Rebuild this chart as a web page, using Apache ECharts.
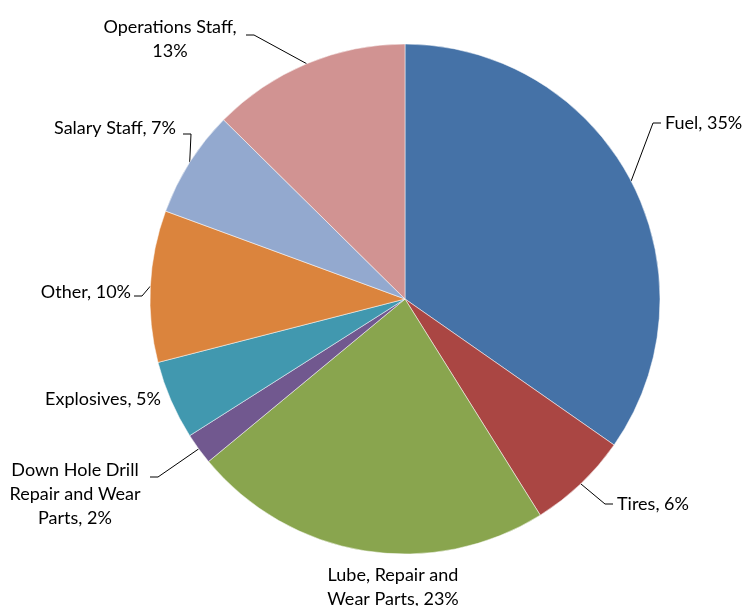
<!DOCTYPE html>
<html>
<head>
<meta charset="utf-8">
<script src="https://cdn.jsdelivr.net/npm/echarts@6/dist/echarts.min.js"></script>
<style>
  html, body { margin: 0; padding: 0; background: #ffffff; }
  #chart { width: 744px; height: 606px; }
</style>
</head>
<body>
<div id="chart"></div>
<script>
// ---- data ----
const categories = [
  'Fuel',
  'Tires',
  'Lube, Repair and\nWear Parts',
  'Down Hole Drill\nRepair and Wear\nParts',
  'Explosives',
  'Other',
  'Salary Staff',
  'Operations Staff,\n'
];
const shares = [34.7, 6.4, 22.9, 2.0, 5.0, 9.6, 6.8, 12.6];
const colors = ['#4572A7', '#AA4643', '#89A54E', '#71588F', '#4198AF', '#DB843D', '#93A9CF', '#D19392'];

// ---- label placement (layout only) ----
const labelPos = [
  { x: 665, y: 123, align: 'left' },
  { x: 617, y: 504, align: 'left' },
  { x: 393, y: 587, align: 'center', noLine: true },
  { x: 75,  y: 494, align: 'center', lineY: 477, lineX: 150 },
  { x: 103, y: 399, align: 'center', noLine: true },
  { x: 131, y: 292, align: 'right' },
  { x: 115, y: 128, align: 'center', lineY: 134, lineX: 183 },
  { x: 170, y: 39,  align: 'center', lineY: 35, lineX: 246 }
];

const chart = echarts.init(document.getElementById('chart'), null, { renderer: 'canvas' });

const data = categories.map((c, i) => ({
  name: c,
  value: shares[i],
  itemStyle: { color: colors[i] }
}));

chart.setOption({
  animation: false,
  backgroundColor: '#ffffff',
  series: [{
    type: 'pie',
    center: [405, 299],
    radius: 255,
    startAngle: 90,
    clockwise: true,
    avoidLabelOverlap: false,
    data: data,
    itemStyle: { borderColor: '#ffffff', borderWidth: 0.5 },
    label: {
      show: true,
      position: 'outside',
      fontFamily: 'Lato, "Open Sans", sans-serif',
      fontSize: 18,
      lineHeight: 24,
      color: '#000000',
      formatter: function (p) {
        const sep = p.name.endsWith('\n') ? '' : ', ';
        return p.name + sep + Math.round(p.percent) + '%';
      }
    },
    labelLine: {
      show: true,
      length: 15,
      length2: 10,
      lineStyle: { color: '#000000', width: 1 }
    },
    labelLayout: function (params) {
      const L = labelPos[params.dataIndex];
      const res = { x: L.x, y: L.y, align: L.align, verticalAlign: 'middle' };
      const start = params.labelLinePoints ? params.labelLinePoints[0] : null;
      if (L.noLine || !start) {
        res.labelLinePoints = [[0, 0], [0, 0], [0, 0]];
        return res;
      }
      let endX, endY;
      if (L.lineX != null) {
        endX = L.lineX; endY = L.lineY;
      } else if (L.align === 'left') {
        endX = L.x - 4; endY = L.y;
      } else {
        endX = L.x + 3; endY = L.y + 4;
      }
      const dir = start[0] > endX ? 1 : -1;
      const bend = [endX + dir * 8, endY];
      res.labelLinePoints = [start, bend, [endX, endY]];
      return res;
    }
  }]
});
</script>
</body>
</html>
